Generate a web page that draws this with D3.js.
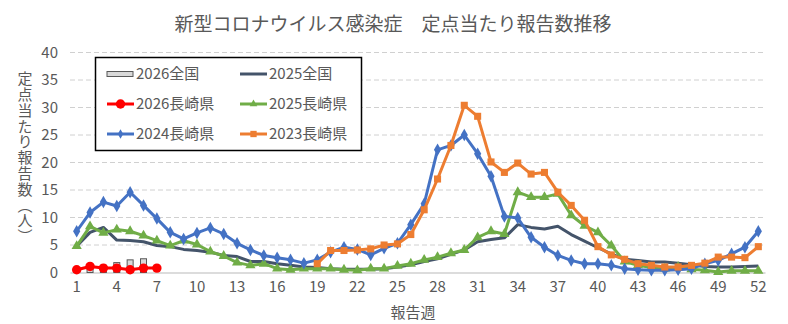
<!DOCTYPE html>
<html>
<head>
<meta charset="utf-8">
<script src="https://cdn.jsdelivr.net/npm/d3@7"></script>
<style>
  body { margin: 0; background: #fff; }
  svg text { font-family: "Noto Sans CJK JP", "Noto Sans", sans-serif; fill: #595959; }
</style>
</head>
<body>
<svg id="chart" width="788" height="324"></svg>
<script>
// weeks 1..52
const weeks = d3.range(1, 53);
const xTicks = d3.range(1, 53, 3);
const yTicks = [0, 5, 10, 15, 20, 25, 30, 35, 40];

// 2026 national (bars)
const natl2026 = [0.8, 1.0, 1.3, 1.8, 2.3, 2.5];
// 2025 national
const natl2025 = [4.8, 7.3, 8.2, 5.9, 5.8, 5.6, 4.9, 4.7, 4.2, 4.0, 3.7, 3.1, 2.9, 2.0, 2.0, 1.6, 1.3, 1.0, 0.9, 0.7,
  0.6, 0.6, 0.6, 0.7, 1.0, 1.4, 2.0, 2.5, 3.3, 4.1, 5.6, 6.0, 6.3, 8.7, 8.2, 7.9, 8.4, 6.9, 5.7, 4.5,
  3.4, 2.4, 2.2, 1.9, 1.9, 1.7, 1.4, 1.1, 1.0, 1.0, 1.1, 1.2];
// Nagasaki
const naga2026 = [0.5, 1.1, 0.8, 0.8, 0.5, 0.8, 0.8];
const naga2025 = [4.8, 8.4, 7.2, 7.8, 7.5, 6.7, 5.8, 4.9, 5.8, 5.1, 3.8, 3.0, 1.8, 1.3, 1.6, 0.7, 0.5, 0.7, 0.7, 0.7,
  0.5, 0.4, 0.7, 0.7, 1.2, 1.6, 2.3, 2.8, 3.5, 4.1, 6.4, 7.5, 7.0, 14.6, 13.7, 13.7, 14.3, 10.4, 8.5, 7.3,
  4.9, 2.0, 1.3, 0.9, 0.7, 1.0, 0.6, 0.4, 0.1, 0.3, 0.3, 0.3];
const naga2024 = [7.5, 10.9, 12.8, 12.1, 14.6, 12.2, 9.8, 7.3, 6.1, 7.2, 8.1, 7.0, 5.3, 4.1, 3.1, 2.7, 2.3, 1.7, 2.3, 3.7,
  4.6, 4.2, 3.2, 4.4, 5.3, 8.7, 12.5, 22.3, 23.1, 25.0, 21.6, 17.5, 10.2, 9.9, 6.4, 4.6, 3.1, 2.2, 1.6, 1.6,
  1.3, 0.7, 0.5, 0.4, 0.4, 0.5, 0.7, 1.6, 2.2, 3.4, 4.6, 7.5];
const naga2023 = [null, null, null, null, null, null, null, null, null, null, null, null, null, null, null, null, null, null, 1.6, 4.0,
  4.0, 4.1, 4.3, 5.0, 5.2, 6.9, 11.4, 17.0, 23.1, 30.4, 28.4, 20.1, 18.2, 19.9, 17.9, 18.2, 14.6, 12.2, 9.5, 4.7,
  3.2, 2.4, 1.6, 1.3, 1.0, 1.0, 1.3, 1.7, 2.8, 2.8, 2.7, 4.7];

const svg = d3.select("#chart");

const x = d3.scaleBand().domain(weeks).range([70, 765]);
const y = d3.scaleLinear().domain([0, 40]).range([272.5, 52.5]);
const cx = w => x(w) + x.bandwidth() / 2;

// title
svg.append("text")
  .attr("x", 393).attr("y", 31)
  .attr("text-anchor", "middle")
  .style("font-size", "19px")
  .text("新型コロナウイルス感染症　定点当たり報告数推移");

// gridlines
svg.append("g").selectAll("line")
  .data(yTicks.filter(d => d > 0))
  .join("line")
  .attr("x1", 70).attr("x2", 765)
  .attr("y1", d => y(d)).attr("y2", d => y(d))
  .attr("stroke", "#d0d0d0")
  .attr("stroke-dasharray", "5,3");

// y axis
const yAxis = svg.append("g")
  .attr("transform", "translate(64,0)")
  .call(d3.axisLeft(y).tickValues(yTicks).tickSize(0).tickPadding(6));
yAxis.select(".domain").remove();
yAxis.selectAll("text").style("font-size", "15px").style("fill", "#595959");

// x axis
const xAxis = svg.append("g")
  .attr("transform", "translate(0,272.5)")
  .call(d3.axisBottom(x).tickValues(xTicks).tickSize(0).tickPadding(9));
xAxis.select(".domain").attr("stroke", "#d0d0d0").attr("stroke-width", 1.3);
xAxis.selectAll("text").style("font-size", "15px").style("fill", "#595959");

// axis titles
svg.append("text")
  .attr("x", 413).attr("y", 318)
  .attr("text-anchor", "middle")
  .style("font-size", "15px")
  .text("報告週");

svg.append("text")
  .attr("transform", "translate(25,71)")
  .style("writing-mode", "vertical-rl")
  .style("font-size", "15px")
  .style("letter-spacing", "0.8px")
  .text("定点当たり報告数（人）");

// bars 2026 national
const barW = 6;
svg.append("g").selectAll("rect")
  .data(natl2026)
  .join("rect")
  .attr("x", (d, i) => cx(weeks[i]) - barW / 2)
  .attr("y", d => y(d))
  .attr("width", barW)
  .attr("height", d => y(0) - y(d))
  .attr("fill", "#d9d9d9")
  .attr("stroke", "#595959")
  .attr("stroke-width", 1);

const line = d3.line()
  .defined(d => d != null)
  .x((d, i) => cx(weeks[i]))
  .y(d => y(d));

function drawSeries(vals, color, marker) {
  const g = svg.append("g");
  g.append("path")
    .datum(vals)
    .attr("d", line)
    .attr("fill", "none")
    .attr("stroke", color)
    .attr("stroke-width", 3)
    .attr("stroke-linejoin", "round");
  if (!marker) return;
  const pts = vals.map((v, i) => ({ v, w: weeks[i] })).filter(p => p.v != null);
  g.selectAll("path.m")
    .data(pts)
    .join("path")
    .attr("class", "m")
    .attr("transform", p => `translate(${cx(p.w)},${y(p.v)})`)
    .attr("d", d3.symbol().type(marker.type).size(marker.size))
    .attr("fill", color);
}

drawSeries(natl2025, "#44546a", null);
drawSeries(naga2026, "#ff0000", { type: d3.symbolCircle, size: 70 });
drawSeries(naga2025, "#70ad47", { type: d3.symbolTriangle, size: 45 });
drawSeries(naga2024, "#4472c4", { type: d3.symbolDiamond, size: 45 });
drawSeries(naga2023, "#ed7d31", { type: d3.symbolSquare, size: 50 });

// legend
const legend = svg.append("g");
legend.append("rect")
  .attr("x", 95.5).attr("y", 57.5)
  .attr("width", 266).attr("height", 93)
  .attr("fill", "#fff")
  .attr("stroke", "#000")
  .attr("stroke-width", 1.5);

const legendItems = [
  { name: "2026全国", color: "#595959", kind: "bar" },
  { name: "2025全国", color: "#44546a", kind: "line" },
  { name: "2026長崎県", color: "#ff0000", kind: "line", marker: { type: d3.symbolCircle, size: 70 } },
  { name: "2025長崎県", color: "#70ad47", kind: "line", marker: { type: d3.symbolTriangle, size: 25 } },
  { name: "2024長崎県", color: "#4472c4", kind: "line", marker: { type: d3.symbolDiamond, size: 25 } },
  { name: "2023長崎県", color: "#ed7d31", kind: "line", marker: { type: d3.symbolSquare, size: 40 } }
];

legendItems.forEach((it, i) => {
  const lx = i % 2 === 0 ? 107 : 240;
  const ly = 74 + Math.floor(i / 2) * 30;
  const g = legend.append("g").attr("transform", `translate(${lx},${ly})`);
  if (it.kind === "bar") {
    g.append("rect").attr("x", 0).attr("y", -2.5).attr("width", 26).attr("height", 5)
      .attr("fill", "#d9d9d9").attr("stroke", "#595959").attr("stroke-width", 1);
  } else {
    g.append("line").attr("x1", 0).attr("x2", 27).attr("y1", 0).attr("y2", 0)
      .attr("stroke", it.color).attr("stroke-width", 3);
    if (it.marker) {
      g.append("path").attr("transform", "translate(13.5,0)")
        .attr("d", d3.symbol().type(it.marker.type).size(it.marker.size))
        .attr("fill", it.color);
    }
  }
  g.append("text")
    .attr("x", 29).attr("y", 0)
    .attr("dy", "0.35em")
    .style("font-size", "15px")
    .text(it.name);
});
</script>
</body>
</html>
